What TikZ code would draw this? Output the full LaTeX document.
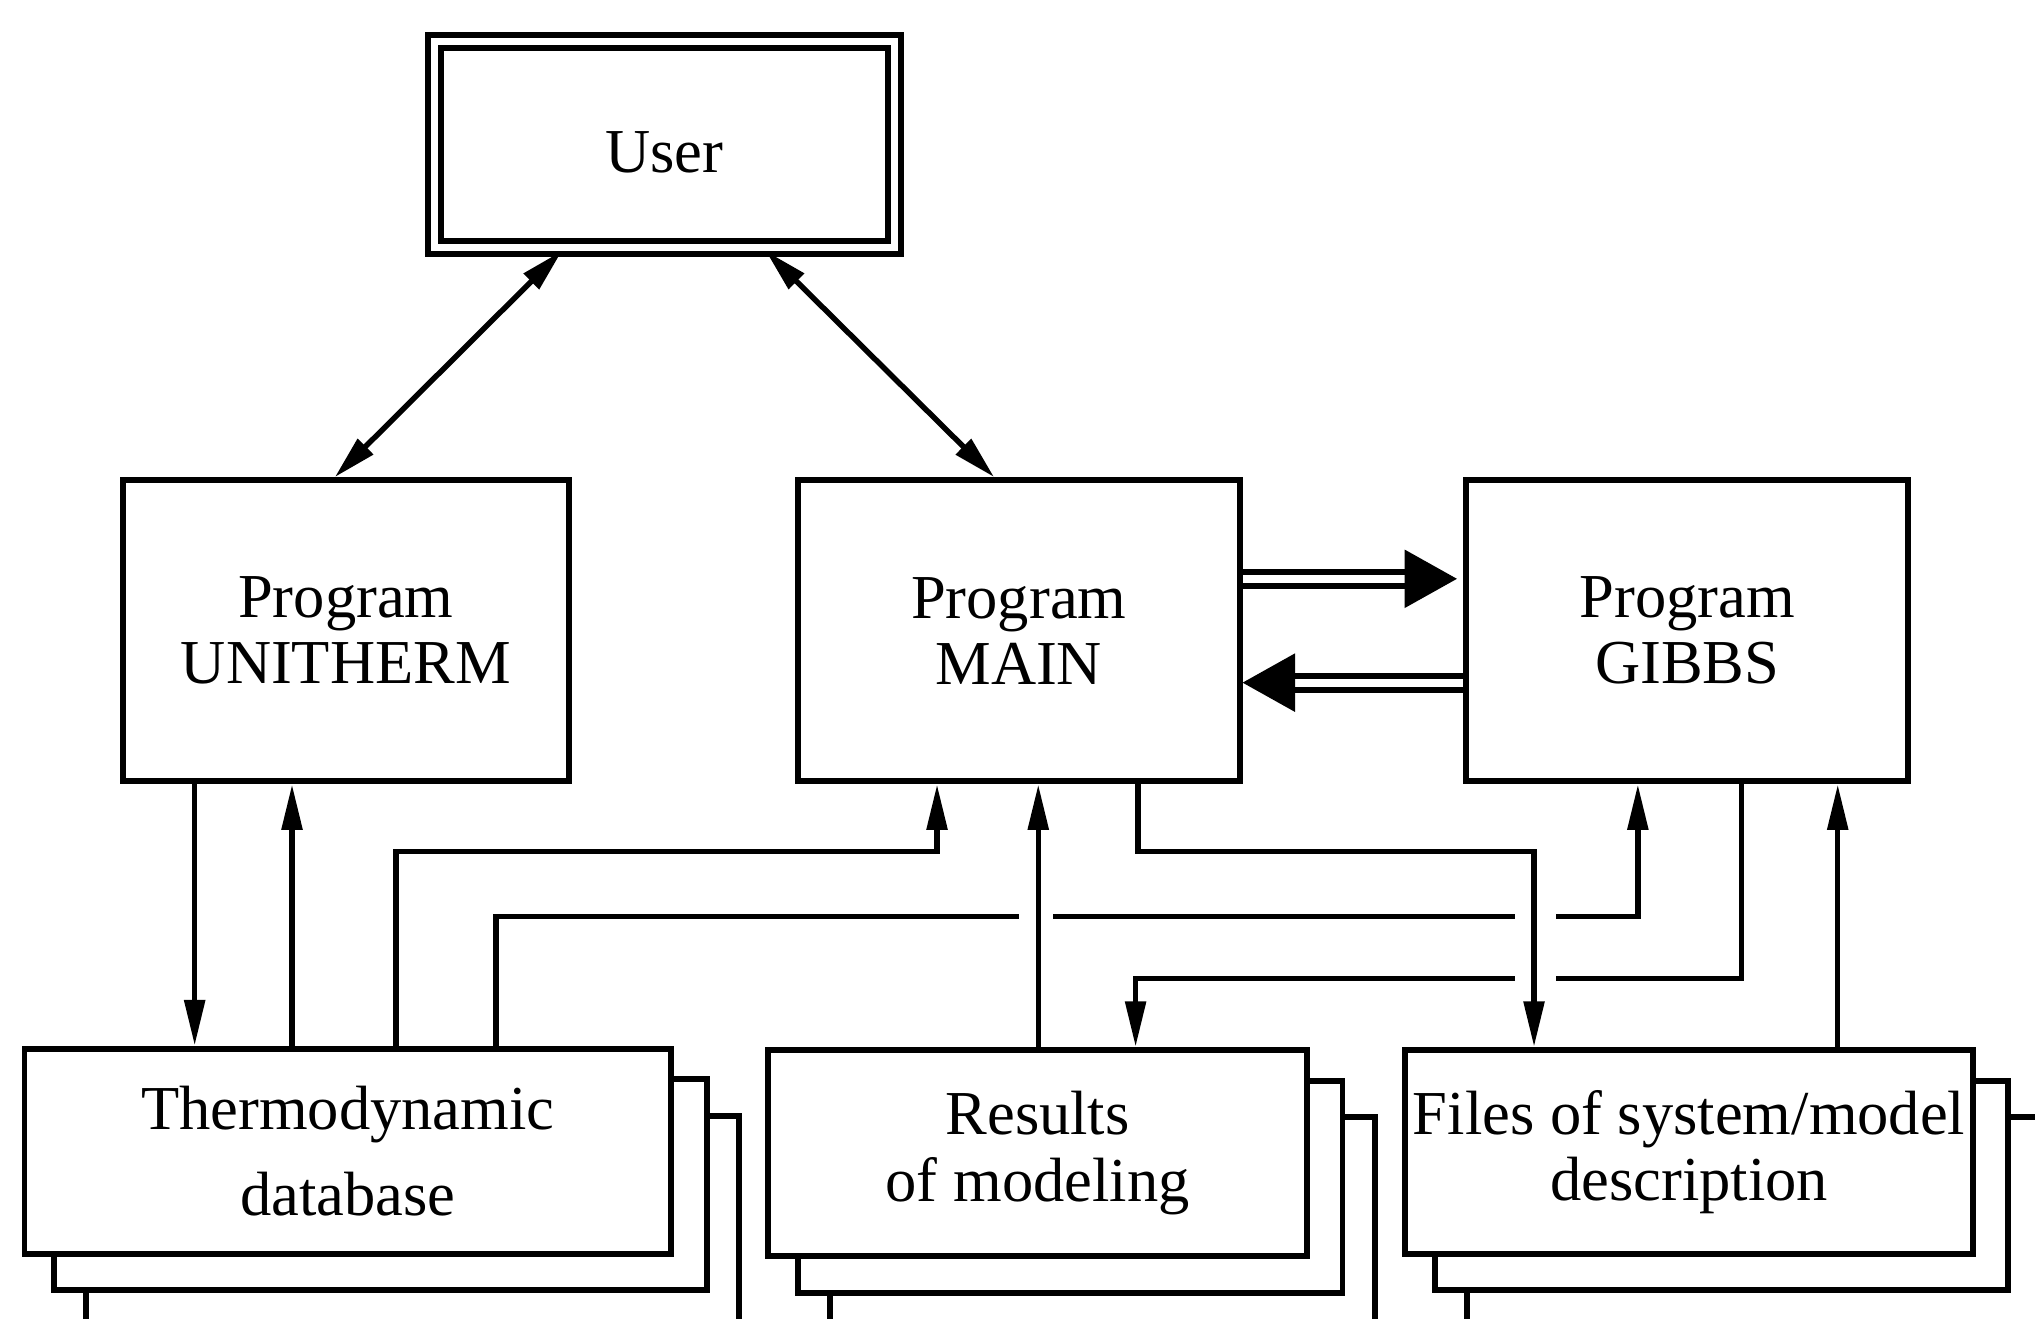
\documentclass[tikz,border=0pt]{standalone}
\usepackage{fontspec}
\setmainfont{Liberation Serif}
\usetikzlibrary{arrows.meta,backgrounds}

\begin{document}
\begin{tikzpicture}[x=0.01cm,y=-0.01cm,
  box/.style={draw,line width=1.3pt,fill=white,align=center,inner sep=0pt,
    font=\fontsize{13.7pt}{14.5pt}\selectfont},
  sheet/.style={draw,line width=1.3pt,fill=white},
  link/.style={line width=1.2pt},
  arr/.style={link,-{Triangle[length=10pt,width=4.4pt]}},
  biarr/.style={link,{Triangle[length=9.5pt,width=4.6pt]}-{Triangle[length=9.5pt,width=4.6pt]}},
  dbl/.style={line width=1.3pt,double,double distance=1.8pt,-{Triangle[length=11.5pt,width=12.5pt]}},
  gap/.style={fill=white}
]
\useasboundingbox (0,0) rectangle (1568,1016);
\clip (0,0) rectangle (1568,1016);

% ---- blocks ----
\node[box,double,double distance=1.55pt,minimum width=3.54cm,minimum height=1.59cm,
      text height=0.43cm,text depth=0pt] (user) at (512,111.5) {User};

\node[box,minimum width=3.43cm,minimum height=2.32cm] (unitherm) at (266.5,486) {Program\\UNITHERM};
\node[box,minimum width=3.40cm,minimum height=2.32cm] (main) at (785,486) {Program\\MAIN};
\node[box,minimum width=3.40cm,minimum height=2.32cm] (gibbs) at (1300,486) {Program\\GIBBS};

\node[box,minimum width=4.98cm,minimum height=1.58cm,
      font=\fontsize{13.7pt}{18.8pt}\selectfont] (tdb) at (268,887) {Thermodynamic\\database};
\node[box,minimum width=4.15cm,minimum height=1.59cm] (res) at (799.5,888.5) {Results\\of modeling};
\node[box,minimum width=4.37cm,minimum height=1.57cm] (files) at (1301.5,887.5) {Files of system/model\\description};

% ---- columns and routing levels of the connectors ----
\foreach \cx in {150,225,258,305,382,433,590,722,766,800,875,877,1182,1262,1342,1416}
  \coordinate (c\cx) at (\cx,0);
\coordinate (r1) at (0,656);
\coordinate (r2) at (0,706);
\coordinate (r3) at (0,754);
\coordinate (d1) at (0,446);
\coordinate (d2) at (0,526);

\begin{scope}[on background layer]
  % stacked sheets behind the file blocks
  \foreach \n in {tdb,res,files} {
    \draw[sheet] ([shift={(50,54)}]\n.north west) rectangle ([shift={(50,54)}]\n.south east);
    \draw[sheet] ([shift={(25,26)}]\n.north west) rectangle ([shift={(25,26)}]\n.south east);
  }

  % user dialogue
  \draw[biarr] (user.south -| c433) -- (unitherm.north -| c258);
  \draw[biarr] (user.south -| c590) -- (main.north -| c766);

  % MAIN <-> GIBBS
  \draw[dbl,shorten >=1.4pt] (main.east |- d1) -- (gibbs.west |- d1);
  \draw[dbl] (gibbs.west |- d2) -- (main.east |- d2);

  % data flows
  \draw[arr] (unitherm.south -| c150) -- (tdb.north -| c150);
  \draw[arr] (tdb.north -| c225) -- (unitherm.south -| c225);
  \draw[arr] (tdb.north -| c305) |- (r1 -| c722) -- (main.south -| c722);
  \draw[arr] (tdb.north -| c382) |- (r2 -| c1262) -- (gibbs.south -| c1262);
  \draw[arr] (gibbs.south -| c1342) |- (r3 -| c875) -- (res.north -| c875);

  % breaks where lines cross
  \fill[gap] (785,696) rectangle (811,716);
  \fill[gap] (1167,696) rectangle (1199,716);
  \fill[gap] (1167,744) rectangle (1199,764);

  \draw[arr] (res.north -| c800) -- (main.south -| c800);
  \draw[arr] (main.south -| c877) |- (r1 -| c1182) -- (files.north -| c1182);
  \draw[arr] (files.north -| c1416) -- (gibbs.south -| c1416);
\end{scope}
\end{tikzpicture}
\end{document}
